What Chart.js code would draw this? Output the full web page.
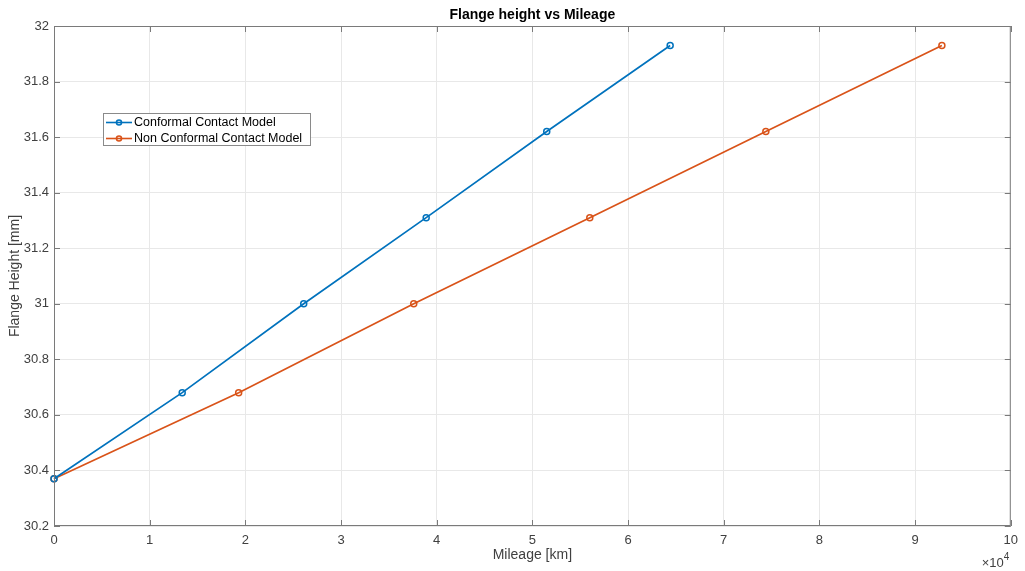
<!DOCTYPE html>
<html>
<head>
<meta charset="utf-8">
<script src="https://cdn.jsdelivr.net/npm/chart.js@4.4.0/dist/chart.umd.min.js"></script>
<style>
  html, body { margin: 0; padding: 0; background: #fff; }
  #wrap { width: 1025px; height: 571px; }
</style>
</head>
<body>
<div id="wrap"><canvas id="chart" width="1025" height="571"></canvas></div>
<script>
const seriesNames = ['Conformal Contact Model', 'Non Conformal Contact Model'];
const conformalMileage = [0, 13400, 26100, 38900, 51500, 64400];
const conformalHeight = [30.37, 30.68, 31.0, 31.31, 31.62, 31.93];
const nonConformalMileage = [0, 19300, 37600, 56000, 74400, 92800];
const nonConformalHeight = [30.37, 30.68, 31.0, 31.31, 31.62, 31.93];
const xTicks = [0, 10000, 20000, 30000, 40000, 50000, 60000, 70000, 80000, 90000, 100000];
const yTicks = [30.2, 30.4, 30.6, 30.8, 31, 31.2, 31.4, 31.6, 31.8, 32];

const blue = '#0072BD';
const orange = '#D95319';
const axisColor = '#7a7a7a';
const textColor = '#404040';
const FONT = 'Liberation Sans, Arial, sans-serif';

function toPoints(xs, ys) {
    return xs.map(function (x, i) { return { x: x, y: ys[i] }; });
}

// frame, inner ticks, title, legend, exponent label
const matlabLook = {
    id: 'matlabLook',
    afterDatasetsDraw(chart) {
        const ctx = chart.ctx;
        const a = chart.chartArea;
        const xs = chart.scales.x, ys = chart.scales.y;
        ctx.save();
        ctx.strokeStyle = axisColor;
        ctx.lineWidth = 1;
        ctx.strokeRect(a.left + 0.5, a.top + 0.5, a.right - a.left - 1, a.bottom - a.top - 1);
        ctx.beginPath();
        xTicks.forEach(function (v) {
            const px = Math.round(xs.getPixelForValue(v)) + 0.5;
            ctx.moveTo(px, a.bottom); ctx.lineTo(px, a.bottom - 6);
            ctx.moveTo(px, a.top); ctx.lineTo(px, a.top + 6);
        });
        yTicks.forEach(function (v) {
            const py = Math.round(ys.getPixelForValue(v)) + 0.5;
            ctx.moveTo(a.left, py); ctx.lineTo(a.left + 6, py);
            ctx.moveTo(a.right, py); ctx.lineTo(a.right - 6, py);
        });
        ctx.stroke();

        // title
        ctx.fillStyle = '#000';
        ctx.font = 'bold 14px ' + FONT;
        ctx.textAlign = 'center';
        ctx.textBaseline = 'middle';
        ctx.fillText('Flange height vs Mileage', (a.left + a.right) / 2, 15);

        // x10^4
        ctx.fillStyle = textColor;
        ctx.font = '13px ' + FONT;
        ctx.textAlign = 'right';
        ctx.textBaseline = 'alphabetic';
        ctx.fillText('\u00d710', a.right - 7, 567);
        ctx.font = '10px ' + FONT;
        ctx.textAlign = 'left';
        ctx.fillText('4', a.right - 7, 560);

        // legend
        const lx = a.left + 49, ly = a.top + 87, lw = 207, lh = 32;
        ctx.fillStyle = '#fff';
        ctx.fillRect(lx, ly, lw, lh);
        ctx.strokeStyle = '#8a8a8a';
        ctx.lineWidth = 1;
        ctx.strokeRect(lx + 0.5, ly + 0.5, lw, lh);
        const colors = [blue, orange];
        seriesNames.forEach(function (name, i) {
            const cy = ly + 9.5 + i * 16;
            ctx.strokeStyle = colors[i];
            ctx.lineWidth = 1.6;
            ctx.beginPath();
            ctx.moveTo(lx + 3, cy); ctx.lineTo(lx + 29, cy);
            ctx.stroke();
            ctx.beginPath();
            ctx.arc(lx + 16, cy, 2.5, 0, Math.PI * 2);
            ctx.stroke();
            ctx.fillStyle = '#000';
            ctx.font = '12.5px ' + FONT;
            ctx.textAlign = 'left';
            ctx.textBaseline = 'middle';
            ctx.fillText(name, lx + 31, cy + 0.5);
        });
        ctx.restore();
    }
};

const ctx = document.getElementById('chart').getContext('2d');
new Chart(ctx, {
    type: 'line',
    data: {
        datasets: [{
            label: seriesNames[0],
            data: toPoints(conformalMileage, conformalHeight),
            borderColor: blue,
            backgroundColor: 'rgba(0,0,0,0)',
            borderWidth: 1.7,
            pointRadius: 3,
            pointBorderWidth: 1.5,
            pointBackgroundColor: 'rgba(0,0,0,0)',
            pointBorderColor: blue,
            tension: 0
        }, {
            label: seriesNames[1],
            data: toPoints(nonConformalMileage, nonConformalHeight),
            borderColor: orange,
            backgroundColor: 'rgba(0,0,0,0)',
            borderWidth: 1.7,
            pointRadius: 3,
            pointBorderWidth: 1.5,
            pointBackgroundColor: 'rgba(0,0,0,0)',
            pointBorderColor: orange,
            tension: 0
        }]
    },
    options: {
        responsive: false,
        animation: false,
        clip: false,
        layout: { padding: { top: 26, right: 9, left: 0, bottom: 0 } },
        plugins: {
            legend: { display: false },
            title: { display: false },
            tooltip: { enabled: false }
        },
        scales: {
            x: {
                type: 'linear',
                min: 0,
                max: 100000,
                afterBuildTicks: function (scale) {
                    scale.ticks = xTicks.map(function (v) { return { value: v }; });
                },
                afterFit: function (scale) { scale.height = 45; },
                grid: { color: '#e8e8e8', drawTicks: false },
                border: { display: false },
                ticks: {
                    color: textColor,
                    font: { family: FONT, size: 13 },
                    padding: 7,
                    maxRotation: 0,
                    callback: function (v) { return String(v / 10000); }
                },
                title: {
                    display: true,
                    text: 'Mileage [km]',
                    color: textColor,
                    font: { family: FONT, size: 14 },
                    padding: { top: 0, bottom: 7 }
                }
            },
            y: {
                type: 'linear',
                min: 30.2,
                max: 32,
                afterBuildTicks: function (scale) {
                    scale.ticks = yTicks.map(function (v) { return { value: v }; });
                },
                afterFit: function (scale) { scale.width = 54; },
                grid: { color: '#e8e8e8', drawTicks: false },
                border: { display: false },
                ticks: {
                    color: textColor,
                    font: { family: FONT, size: 13 },
                    padding: 5,
                    callback: function (v) { return String(Math.round(v * 10) / 10); }
                },
                title: {
                    display: true,
                    text: 'Flange Height [mm]',
                    color: textColor,
                    font: { family: FONT, size: 14 },
                    padding: { top: 7, bottom: 0 }
                }
            }
        }
    },
    plugins: [matlabLook]
});
</script>
</body>
</html>
